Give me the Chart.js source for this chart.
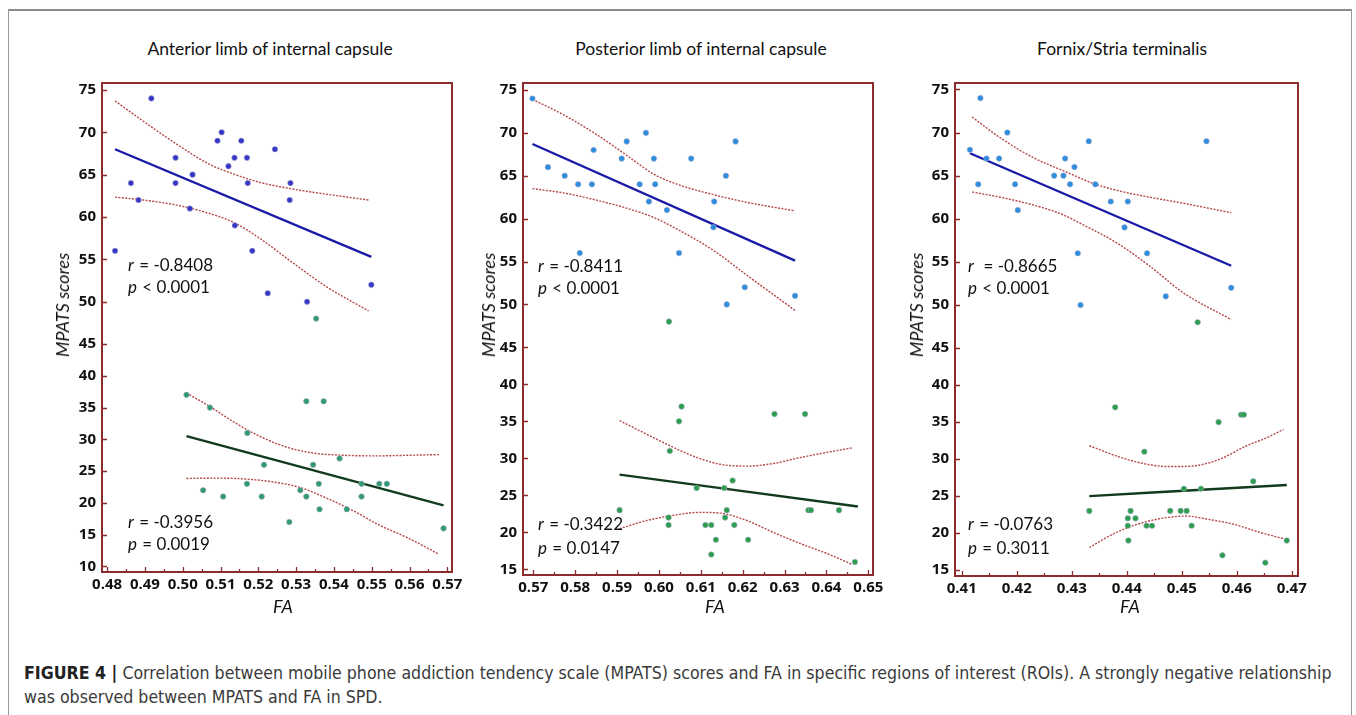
<!DOCTYPE html>
<html>
<head>
<meta charset="utf-8">
<script src="https://cdn.jsdelivr.net/npm/chart.js@4.4.1/dist/chart.umd.min.js"></script>
<style>
  body { margin: 0; background: #fff; width: 1356px; height: 715px; overflow: hidden; position: relative; font-family: Lato, sans-serif; }
  .box { position: absolute; left: 8px; top: 9px; width: 1342px; height: 720px; border: 1px solid #9a9a9a; border-top: 2px solid #8a8a8a; }
  canvas { position: absolute; }
  .t { position: absolute; white-space: nowrap; color: #111; line-height: 22px; }
  .title { font-size: 17.5px; transform: translateX(-50%); }
  .ylab { font-style: italic; font-size: 18px; transform: translate(-50%, -50%) rotate(-90deg); }
  .fa { font-style: italic; font-size: 18px; transform: translateX(-50%); }
  .st { font-size: 17px; line-height: 20px; }
  .st i { margin-right: 1px; }
  .cap { position: absolute; left: 24px; top: 661px; white-space: nowrap; font-family: 'DejaVu Sans Condensed', 'Liberation Sans Narrow', sans-serif; font-size: 17.6px; line-height: 24px; color: #3a3a3a; }
  .cap b { color: #222; }
</style>
</head>
<body>
<div class="box"></div>

<canvas id="c1" width="414" height="544" style="left:58px;top:68px"></canvas>
<canvas id="c2" width="413" height="547" style="left:480px;top:68px"></canvas>
<canvas id="c3" width="406" height="548" style="left:912px;top:68px"></canvas>

<div class="t title" style="left:270px;top:38px">Anterior limb of internal capsule</div>
<div class="t title" style="left:701px;top:38px">Posterior limb of internal capsule</div>
<div class="t title" style="left:1122px;top:38px">Fornix/Stria terminalis</div>

<div class="t ylab" style="left:62px;top:305px">MPATS scores</div>
<div class="t ylab" style="left:488px;top:305px">MPATS scores</div>
<div class="t ylab" style="left:916px;top:305px">MPATS scores</div>

<div class="t fa" style="left:283px;top:595px">FA</div>
<div class="t fa" style="left:715px;top:595px">FA</div>
<div class="t fa" style="left:1130px;top:595px">FA</div>

<div class="t st" style="left:128px;top:255px"><i>r</i> = -0.8408</div>
<div class="t st" style="left:128px;top:277px"><i>p</i> &lt; 0.0001</div>
<div class="t st" style="left:128px;top:512px"><i>r</i> = -0.3956</div>
<div class="t st" style="left:128px;top:534px"><i>p</i> = 0.0019</div>

<div class="t st" style="left:538px;top:256px"><i>r</i> = -0.8411</div>
<div class="t st" style="left:538px;top:278px"><i>p</i> &lt; 0.0001</div>
<div class="t st" style="left:538px;top:514px"><i>r</i> = -0.3422</div>
<div class="t st" style="left:538px;top:538px"><i>p</i> = 0.0147</div>

<div class="t st" style="left:968px;top:256px"><i>r</i>&nbsp; = -0.8665</div>
<div class="t st" style="left:968px;top:278px"><i>p</i> &lt; 0.0001</div>
<div class="t st" style="left:968px;top:514px"><i>r</i> = -0.0763</div>
<div class="t st" style="left:968px;top:538px"><i>p</i> = 0.3011</div>

<div class="cap"><b>FIGURE 4 |</b> Correlation between mobile phone addiction tendency scale (MPATS) scores and FA in specific regions of interest (ROIs). A strongly negative relationship<br>was observed between MPATS and FA in SPD.</div>

<script>
// tick values
const yTopTicks = [50, 55, 60, 65, 70, 75];
const p1YBotTicks = [10, 15, 20, 25, 30, 35, 40, 45];
const p23YBotTicks = [15, 20, 25, 30, 35, 40, 45];
const p1XTicks = [0.48, 0.49, 0.50, 0.51, 0.52, 0.53, 0.54, 0.55, 0.56, 0.57];
const p2XTicks = [0.57, 0.58, 0.59, 0.60, 0.61, 0.62, 0.63, 0.64, 0.65];
const p3XTicks = [0.41, 0.42, 0.43, 0.44, 0.45, 0.46, 0.47];

// Anterior limb of internal capsule  [FA, MPATS]
const p1BlueHigh = [[0.4821,56],[0.4863,64],[0.4883,62],[0.4917,74],[0.4981,67],[0.4981,64],[0.5026,65],[0.5019,61],[0.5092,69],[0.5103,70],[0.5121,66],[0.5137,67],[0.5155,69],[0.5170,67],[0.5172,64],[0.5138,59],[0.5184,56],[0.5244,68],[0.5285,64],[0.5283,62],[0.5225,51],[0.5329,50],[0.5499,52]];
const p1GreenOut = [[0.5353,48]];
const p1GreenLow = [[0.5010,37],[0.5072,35],[0.5054,22],[0.5107,21],[0.5171,31],[0.5170,23],[0.5215,26],[0.5209,21],[0.5282,17],[0.5327,36],[0.5373,36],[0.5311,22],[0.5327,21],[0.5345,26],[0.5360,23],[0.5362,19],[0.5415,27],[0.5434,19],[0.5473,23],[0.5473,21],[0.5520,23],[0.5540,23],[0.5690,16]];
const p1BlueFit = [[0.4821,68.0],[0.5499,55.3]];
const p1BlueCiUp = [[0.4821,73.7],[0.4896,71.3],[0.4984,68.6],[0.5072,66.2],[0.5133,65.1],[0.5203,64.1],[0.5291,63.3],[0.5379,62.7],[0.5492,62.0]];
const p1BlueCiLow = [[0.4821,62.35],[0.4896,62.0],[0.4984,61.4],[0.5072,60.4],[0.5133,59.4],[0.5203,57.5],[0.5291,54.6],[0.5379,51.8],[0.5492,48.9]];
const p1GreenFit = [[0.5010,30.5],[0.5690,19.6]];
const p1GreenCiUp = [[0.5010,37.3],[0.5072,35.15],[0.5133,32.8],[0.5203,30.5],[0.5274,28.8],[0.5344,27.85],[0.5423,27.5],[0.5511,27.4],[0.5599,27.5],[0.5678,27.6]];
const p1GreenCiLow = [[0.5010,23.85],[0.5098,23.9],[0.5168,23.75],[0.5239,23.3],[0.5309,22.45],[0.5379,20.8],[0.5450,18.8],[0.5520,16.5],[0.5599,14.4],[0.5678,11.9]];

// Posterior limb of internal capsule
const p2BlueHigh = [[0.5698,74],[0.5735,66],[0.5775,65],[0.5807,64],[0.5811,56],[0.5840,64],[0.5844,68],[0.5911,67],[0.5923,69],[0.5954,64],[0.5969,70],[0.5976,62],[0.5988,67],[0.5991,64],[0.6019,61],[0.6048,56],[0.6077,67],[0.6130,59],[0.6132,62],[0.6160,65],[0.6162,50],[0.6183,69],[0.6205,52],[0.6325,51]];
const p2GreenOut = [[0.6024,48]];
const p2GreenLow = [[0.5906,23],[0.6023,22],[0.6023,21],[0.6026,31],[0.6048,35],[0.6054,37],[0.6090,26],[0.6111,21],[0.6125,21],[0.6125,17],[0.6136,19],[0.6156,26],[0.6158,22],[0.6162,23],[0.6176,27],[0.6180,21],[0.6213,19],[0.6276,36],[0.6349,36],[0.6357,23],[0.6363,23],[0.6430,23],[0.6468,16]];
const p2BlueFit = [[0.5698,68.7],[0.6325,55.1]];
const p2BlueCiUp = [[0.5698,73.9],[0.5772,72.1],[0.5851,69.8],[0.5931,67.1],[0.5987,65.2],[0.6050,63.9],[0.6130,62.8],[0.6210,61.9],[0.6325,60.9]];
const p2BlueCiLow = [[0.5698,63.5],[0.5772,63.0],[0.5851,62.15],[0.5931,61.1],[0.5987,60.15],[0.6050,58.6],[0.6130,56.3],[0.6210,53.4],[0.6325,49.3]];
const p2GreenFit = [[0.5906,27.8],[0.6475,23.5]];
const p2GreenCiUp = [[0.5906,35.1],[0.5955,33.7],[0.6019,31.9],[0.6082,30.3],[0.6146,29.2],[0.6210,28.95],[0.6273,29.3],[0.6337,30.1],[0.6401,30.8],[0.6460,31.4]];
const p2GreenCiLow = [[0.5906,20.5],[0.5971,21.6],[0.6034,22.3],[0.6098,22.7],[0.6146,22.6],[0.6210,21.6],[0.6273,20.0],[0.6337,18.5],[0.6401,17.15],[0.6460,15.7]];

// Fornix/Stria terminalis
const p3BlueHigh = [[0.4115,68],[0.4134,74],[0.4130,64],[0.4145,67],[0.4168,67],[0.4183,70],[0.4197,64],[0.4202,61],[0.4268,65],[0.4285,65],[0.4288,67],[0.4297,64],[0.4305,66],[0.4311,56],[0.4316,50],[0.4331,69],[0.4343,64],[0.4371,62],[0.4396,59],[0.4402,62],[0.4437,56],[0.4471,51],[0.4545,69],[0.4590,52]];
const p3GreenOut = [[0.4529,48]];
const p3GreenLow = [[0.4332,23],[0.4379,37],[0.4402,22],[0.4402,21],[0.4403,19],[0.4407,23],[0.4416,22],[0.4432,31],[0.4436,21],[0.4446,21],[0.4479,23],[0.4498,23],[0.4504,26],[0.4509,23],[0.4518,21],[0.4535,26],[0.4567,35],[0.4574,17],[0.4608,36],[0.4613,36],[0.4630,27],[0.4652,16],[0.4691,19]];
const p3BlueFit = [[0.4115,67.6],[0.4590,54.55]];
const p3BlueCiUp = [[0.4119,71.8],[0.4170,69.4],[0.4230,67.1],[0.4291,65.4],[0.4339,64.1],[0.4382,63.3],[0.4442,62.5],[0.4503,61.8],[0.4590,60.7]];
const p3BlueCiLow = [[0.4119,63.1],[0.4170,62.5],[0.4230,61.6],[0.4279,60.6],[0.4327,59.1],[0.4382,57.2],[0.4442,54.5],[0.4503,51.4],[0.4590,48.3]];
const p3GreenFit = [[0.4332,25.0],[0.4691,26.5]];
const p3GreenCiUp = [[0.4332,31.8],[0.4382,30.4],[0.4430,29.4],[0.4473,29.0],[0.4503,29.0],[0.4533,29.2],[0.4570,30.0],[0.4618,31.8],[0.4655,32.9],[0.4685,34.0]];
const p3GreenCiLow = [[0.4332,18.05],[0.4376,19.9],[0.4424,21.3],[0.4473,22.1],[0.4509,22.3],[0.4545,21.9],[0.4594,21.2],[0.4642,20.1],[0.4685,19.25]];

const frameColor = '#8c2d2d';
const ciColor = '#b5484a';
const tickFont = { family: 'Open Sans', size: 15, weight: 'bold' };

function pts(arr) { return arr.map(p => ({ x: p[0], y: p[1] })); }

// box around the plot + inward tick marks
const frameTicks = {
    id: 'frameTicks',
    afterDatasetsDraw(chart) {
        const ctx = chart.ctx;
        const a = chart.chartArea;
        ctx.save();
        ctx.strokeStyle = frameColor;
        ctx.lineWidth = 1.3;
        ctx.beginPath();
        for (const id of ['yTop', 'yBot']) {
            const s = chart.scales[id];
            s.ticks.forEach(t => {
                const y = Math.round(s.getPixelForValue(t.value)) + 0.5;
                ctx.moveTo(a.left, y); ctx.lineTo(a.left + 5, y);
            });
        }
        const xs = chart.scales.x;
        xs.ticks.forEach((t, i) => {
            const x = Math.round(xs.getPixelForValue(t.value)) + 0.5;
            ctx.moveTo(x, a.bottom); ctx.lineTo(x, a.bottom - 5);
            if (i < xs.ticks.length - 1) {
                const m = Math.round(xs.getPixelForValue((t.value + xs.ticks[i + 1].value) / 2)) + 0.5;
                ctx.moveTo(m, a.bottom); ctx.lineTo(m, a.bottom - 3);
            }
        });
        ctx.stroke();
        ctx.lineWidth = 2;
        ctx.strokeRect(a.left, a.top, a.right - a.left, a.bottom - a.top);
        ctx.restore();
    }
};

function makePanel(id, p) {
    const pointSet = (data, color, axis) => ({
        data: pts(data), yAxisID: axis, showLine: false,
        pointRadius: 2.8, pointBackgroundColor: color,
        pointBorderColor: 'rgba(170,175,200,0.7)', pointBorderWidth: 0.8
    });
    const lineSet = (data, color, axis, dotted) => ({
        data: pts(data), yAxisID: axis, showLine: true, pointRadius: 0,
        borderColor: color, borderWidth: dotted ? 1.4 : 2.4,
        borderDash: dotted ? [2, 1.4] : [],
        cubicInterpolationMode: 'monotone', tension: dotted ? 0.4 : 0, fill: false
    });
    const yScale = (min, max, weight, ticks) => ({
        type: 'linear', position: 'left', stack: 'y', stackWeight: weight,
        min: min, max: max,
        afterBuildTicks: s => { s.ticks = ticks.map(v => ({ value: v })); },
        afterFit: s => { s.width = p.yWidth; },
        grid: { display: false, drawTicks: false },
        border: { display: false },
        ticks: { font: tickFont, color: '#111', padding: 6, autoSkip: false }
    });

    new Chart(document.getElementById(id), {
        type: 'scatter',
        data: {
            datasets: [
                pointSet(p.blue, p.blueColor, 'yTop'),
                pointSet(p.greenOut, p.greenColor, 'yTop'),
                pointSet(p.green, p.greenColor, 'yBot'),
                lineSet(p.blueFit, '#1a1aa6', 'yTop', false),
                lineSet(p.greenFit, '#123a1c', 'yBot', false),
                lineSet(p.blueCiUp, ciColor, 'yTop', true),
                lineSet(p.blueCiLow, ciColor, 'yTop', true),
                lineSet(p.greenCiUp, ciColor, 'yBot', true),
                lineSet(p.greenCiLow, ciColor, 'yBot', true)
            ]
        },
        options: {
            responsive: false,
            animation: false,
            layout: { padding: { top: p.padTop, right: 20, left: 0, bottom: 0 } },
            plugins: { legend: { display: false }, tooltip: { enabled: false } },
            scales: {
                x: {
                    type: 'linear', min: p.xMin, max: p.xMax,
                    afterBuildTicks: s => { s.ticks = p.xTicks.map(v => ({ value: v })); },
                    afterFit: s => { s.height = 40; },
                    grid: { display: false, drawTicks: false },
                    border: { display: false },
                    ticks: { font: tickFont, color: '#111', padding: 4, maxRotation: 0, minRotation: 0, autoSkip: false,
                             callback: v => v.toFixed(2) }
                },
                yBot: yScale(p.botMin, 45, p.botH, p.botTicks),
                yTop: yScale(45, p.topMax, p.topH, yTopTicks)
            }
        },
        plugins: [frameTicks]
    });
}

makePanel('c1', {
    blue: p1BlueHigh, greenOut: p1GreenOut, green: p1GreenLow,
    blueFit: p1BlueFit, greenFit: p1GreenFit,
    blueCiUp: p1BlueCiUp, blueCiLow: p1BlueCiLow, greenCiUp: p1GreenCiUp, greenCiLow: p1GreenCiLow,
    blueColor: '#3535c8', greenColor: '#2f9a72',
    xMin: 0.47865, xMax: 0.57124, xTicks: p1XTicks,
    topMax: 75.82, topH: 263.7, botMin: 9.13, botH: 230.3, botTicks: p1YBotTicks,
    yWidth: 44, padTop: 10
});
makePanel('c2', {
    blue: p2BlueHigh, greenOut: p2GreenOut, green: p2GreenLow,
    blueFit: p2BlueFit, greenFit: p2GreenFit,
    blueCiUp: p2BlueCiUp, blueCiLow: p2BlueCiLow, greenCiUp: p2GreenCiUp, greenCiLow: p2GreenCiLow,
    blueColor: '#2b8de0', greenColor: '#2a9e4c',
    xMin: 0.56754, xMax: 0.65112, xTicks: p2XTicks,
    topMax: 75.81, topH: 267, botMin: 14.24, botH: 230, botTicks: p23YBotTicks,
    yWidth: 43, padTop: 10
});
makePanel('c3', {
    blue: p3BlueHigh, greenOut: p3GreenOut, green: p3GreenLow,
    blueFit: p3BlueFit, greenFit: p3GreenFit,
    blueCiUp: p3BlueCiUp, blueCiLow: p3BlueCiLow, greenCiUp: p3GreenCiUp, greenCiLow: p3GreenCiLow,
    blueColor: '#2b8de0', greenColor: '#2a9e4c',
    xMin: 0.40878, xMax: 0.47114, xTicks: p3XTicks,
    topMax: 75.75, topH: 267.5, botMin: 14.2, botH: 230, botTicks: p23YBotTicks,
    yWidth: 43, padTop: 10.5
});
</script>
</body>
</html>
